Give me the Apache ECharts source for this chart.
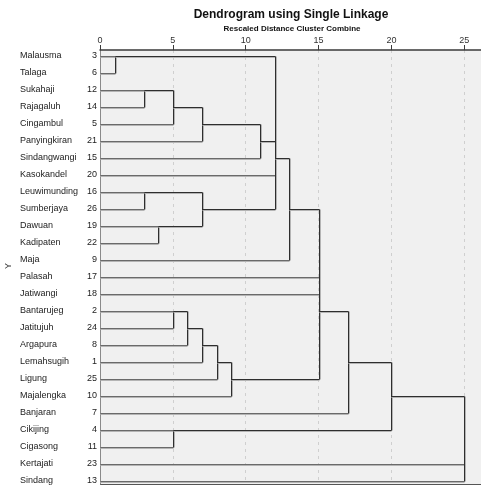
<!DOCTYPE html>
<html><head><meta charset="utf-8">
<script src="https://cdn.jsdelivr.net/npm/echarts@6/dist/echarts.min.js"></script>
<style>html,body{margin:0;padding:0;background:#fff}#c{width:481px;height:486px}</style>
</head><body><div id="c"></div>
<script>
// Cases in dendrogram order (top to bottom)
const caseNames = ["Malausma","Talaga","Sukahaji","Rajagaluh","Cingambul","Panyingkiran","Sindangwangi","Kasokandel","Leuwimunding","Sumberjaya","Dawuan","Kadipaten","Maja","Palasah","Jatiwangi","Bantarujeg","Jatitujuh","Argapura","Lemahsugih","Ligung","Majalengka","Banjaran","Cikijing","Cigasong","Kertajati","Sindang"];
const caseIds = [3,6,12,14,5,21,15,20,16,26,19,22,9,17,18,2,24,8,1,25,10,7,4,11,23,13];
// Merges: [childA, childB, rescaled distance]; numbers = leaf row, "mK" = K-th merge
const merges = [
  [0,1,1],[2,3,3],["m1",4,5],["m2",5,7],["m3",6,11],
  [8,9,3],[10,11,4],["m5","m6",7],
  ["m0","m4",12],["m8",7,12],["m9","m7",12],["m10",12,13],
  [15,16,5],["m12",17,6],["m13",18,7],["m14",19,8],["m15",20,9],
  ["m11",13,15],["m17",14,15],["m18","m16",15],["m19",21,17],
  [22,23,5],["m20","m21",20],["m22",24,25],["m23",25,25]
];
const xTicks = [0,5,10,15,20,25];

// build segments
const nodes = [];
const segs = [];
function getNode(ref){ return typeof ref === 'number' ? {x:0,y:ref} : nodes[+ref.slice(1)]; }
merges.forEach(m=>{
  const a = getNode(m[0]), b = getNode(m[1]), h = m[2];
  if (a.x < h) segs.push([a.x,a.y,h,a.y,a.x===0?1:0]);
  if (b.x < h) segs.push([b.x,b.y,h,b.y,b.x===0?1:0]);
  segs.push([h,a.y,h,b.y,0]);
  nodes.push({x:h,y:Math.floor((a.y+b.y)/2)});
});

const FONT = '"Liberation Sans", Arial, sans-serif';
const chart = echarts.init(document.getElementById('c'));
chart.setOption({
  backgroundColor:'#ffffff',
  animation:false,
  grid:{left:100,top:50,right:0,bottom:2,show:true,backgroundColor:'#f0f0f0',borderWidth:0},
  xAxis:{type:'value',position:'top',min:0,max:26.15,interval:5,
    axisLine:{show:true,onZero:false,lineStyle:{color:'#3a3a3a',width:1.5}},
    axisTick:{show:true,length:5,lineStyle:{color:'#3a3a3a'}},
    axisLabel:{fontSize:9,color:'#333',fontFamily:FONT,margin:5,
      formatter:v=>xTicks.indexOf(v)>=0?String(v):'',showMaxLabel:false},
    splitLine:{show:true,lineStyle:{color:'#cfcfcf',type:[3,4],width:1}}},
  yAxis:{type:'value',inverse:true,min:-0.353,max:25.18,
    axisLine:{show:true,onZero:false,lineStyle:{color:'#8a8a8a'}},
    axisTick:{show:false},axisLabel:{show:false},splitLine:{show:false}},
  graphic:[
    {type:'text',x:291,y:15,style:{text:'Dendrogram using Single Linkage',font:'bold 12px '+FONT,fill:'#111',align:'center',verticalAlign:'middle'}},
    {type:'text',x:292,y:29,style:{text:'Rescaled Distance Cluster Combine',font:'bold 8px '+FONT,fill:'#111',align:'center',verticalAlign:'middle'}},
    {type:'text',x:9,y:266,rotation:Math.PI/2,style:{text:'Y',font:'9px '+FONT,fill:'#333',align:'center',verticalAlign:'middle'}},
    {type:'line',shape:{x1:100,y1:484.5,x2:481,y2:484.5},style:{stroke:'#555',lineWidth:1}}
  ],
  series:[
    {type:'custom',coordinateSystem:'cartesian2d',clip:false,
     data:segs,
     renderItem:(params,api)=>{
       const p1 = api.coord([api.value(0),api.value(1)]);
       const p2 = api.coord([api.value(2),api.value(3)]);
       const leaf = api.value(4)===1;
       const x1 = Math.round(p1[0])+0.5, y1 = Math.round(p1[1])+0.5;
       const x2 = Math.round(p2[0])+0.5, y2 = Math.round(p2[1])+0.5;
       const horiz = y1===y2;
       return {type:'group',children:[
         {type:'line',shape:{x1:x1+(horiz?0:1),y1:y1+(horiz?1:0),x2:x2+(horiz?0:1),y2:y2+(horiz?1:0)},style:{stroke:'#b4b4b4',lineWidth:1}},
         {type:'line',shape:{x1,y1,x2,y2},style:{stroke:leaf?'#6a6a6a':'#2e2e2e',lineWidth:1}}
       ]};
     }},
    {type:'custom',coordinateSystem:'cartesian2d',clip:false,
     data:caseNames.map((n,i)=>[0,i]),
     renderItem:(params,api)=>{
       const i = params.dataIndex;
       const p = api.coord([0,api.value(1)]);
       return {type:'group',children:[
         {type:'text',x:20,y:p[1],style:{text:caseNames[i],font:'9px '+FONT,fill:'#222',align:'left',verticalAlign:'middle'}},
         {type:'text',x:p[0]-3,y:p[1],style:{text:String(caseIds[i]),font:'9px '+FONT,fill:'#222',align:'right',verticalAlign:'middle'}}
       ]};
     }}
  ]
});
</script></body></html>
